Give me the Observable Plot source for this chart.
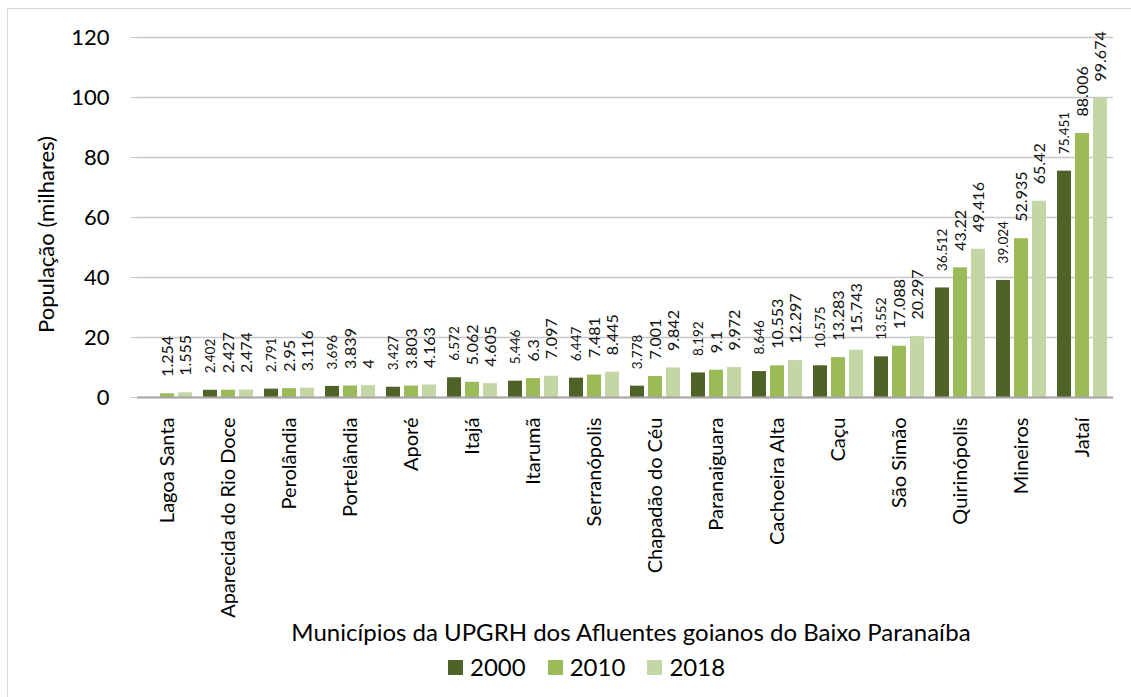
<!DOCTYPE html>
<html>
<head>
<meta charset="utf-8">
<script src="https://cdn.jsdelivr.net/npm/d3@7"></script>
<script src="https://cdn.jsdelivr.net/npm/@observablehq/plot@0.6"></script>
<style>
  html, body { margin: 0; padding: 0; background: #fff; overflow: hidden; }
  body { width: 1131px; height: 697px; position: relative; font-family: Lato, "Open Sans", sans-serif; color: #000; }
  #frame { position: absolute; left: 7px; top: 8px; width: 1200px; height: 800px; border: 1.5px solid #d9d9d9; box-sizing: border-box; }
  #chart { position: absolute; left: 0; top: 0; }
  #xtitle { position: absolute; left: 0; width: 1262px; top: 617px; text-align: center; font-size: 24px; line-height: 30px; white-space: nowrap; }
  #legend { position: absolute; left: 448px; top: 653px; display: flex; align-items: center; font-size: 24px; line-height: 28px; }
  #legend .item { display: flex; align-items: center; margin-right: 22px; }
  #legend .sw { width: 15px; height: 15px; margin-right: 7px; }
</style>
</head>
<body>
<div id="frame"></div>
<div id="chart"></div>
<div id="xtitle"></div>
<div id="legend"></div>
<script>
const categories = ["Lagoa Santa", "Aparecida do Rio Doce", "Perolândia", "Portelândia", "Aporé", "Itajá", "Itarumã", "Serranópolis", "Chapadão do Céu", "Paranaiguara", "Cachoeira Alta", "Caçu", "São Simão", "Quirinópolis", "Mineiros", "Jataí"];
const years = ["2000", "2010", "2018"];
const values2000 = [null, 2.402, 2.791, 3.696, 3.427, 6.572, 5.446, 6.447, 3.778, 8.192, 8.646, 10.575, 13.552, 36.512, 39.024, 75.451];
const values2010 = [1.254, 2.427, 2.95, 3.839, 3.803, 5.062, 6.3, 7.481, 7.001, 9.1, 10.553, 13.283, 17.088, 43.22, 52.935, 88.006];
const values2018 = [1.555, 2.474, 3.116, 4, 4.163, 4.605, 7.097, 8.445, 9.842, 9.972, 12.297, 15.743, 20.297, 49.416, 65.42, 99.674];
const yTicks = [0, 20, 40, 60, 80, 100, 120];
const colors = ["#4f6228", "#9bbb59", "#c4d6a6"];
const yLabel = "População (milhares)";
const xTitle = "Municípios da UPGRH dos Afluentes goianos do Baixo Paranaíba";

const series = [values2000, values2010, values2018];
const data = [];
categories.forEach((c, i) => {
  years.forEach((y, j) => {
    const v = series[j][i];
    if (v != null) data.push({category: c, year: y, value: v});
  });
});

const chart = Plot.plot({
  width: 1131,
  height: 615,
  marginLeft: 133,
  marginRight: 14,
  marginTop: 37,
  marginBottom: 218,
  style: {fontFamily: "Lato, 'Open Sans', sans-serif", background: "transparent", color: "#000", overflow: "visible"},
  fx: {domain: categories, padding: 0, label: null},
  x: {domain: years, paddingInner: 0.22, paddingOuter: 0.285, axis: null},
  y: {domain: [0, 120], label: null},
  color: {domain: years, range: colors},
  marks: [
    Plot.gridY(yTicks, {stroke: "#c8c8c8", strokeOpacity: 1, strokeWidth: 1.5}),
    Plot.barY(data, {fx: "category", x: "year", y: "value", fill: "year"}),
    Plot.ruleY([0], {stroke: "#a6a6a6", strokeWidth: 2}),
    Plot.text(data.filter(d => d.year === "2000"), {fx: "category", x: "year", y: "value", text: d => String(d.value), rotate: -90, textAnchor: "start", dy: -17, fontSize: 13.5, fill: "#111"}),
    Plot.text(data.filter(d => d.year !== "2000"), {fx: "category", x: "year", y: "value", text: d => String(d.value), rotate: -90, textAnchor: "start", dy: -17, fontSize: 16, fill: "#111"}),
    Plot.axisY(yTicks, {tickSize: 6, tickPadding: 22, fontSize: 22, stroke: "#c8c8c8", label: null}),
    Plot.text([yLabel], {fx: () => categories[0], text: d => d, frameAnchor: "left", textAnchor: "middle", rotate: -90, dx: -91, dy: 17, fontSize: 22, fill: "#000"}),
    Plot.axisFx({anchor: "bottom", tickRotate: -90, tickSize: 0, tickPadding: 20, fontSize: 20, label: null})
  ]
});
document.getElementById("chart").appendChild(chart);

document.getElementById("xtitle").textContent = xTitle;
const legend = document.getElementById("legend");
years.forEach((y, i) => {
  const item = document.createElement("div");
  item.className = "item";
  const sw = document.createElement("div");
  sw.className = "sw";
  sw.style.background = colors[i];
  const t = document.createElement("span");
  t.textContent = y;
  item.appendChild(sw);
  item.appendChild(t);
  legend.appendChild(item);
});
</script>
</body>
</html>
